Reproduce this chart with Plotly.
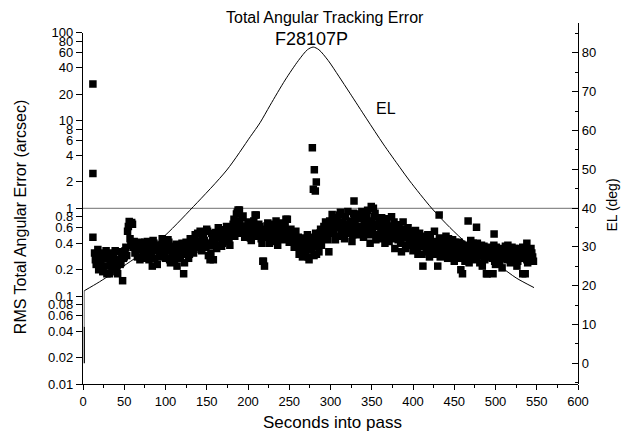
import plotly.graph_objects as go

# ---------------- data ----------------
chart_title = "Total Angular Tracking Error"
pass_label = "F28107P"
el_label = "EL"
x_title = "Seconds into pass"
y_title = "RMS Total Angular Error (arcsec)"
y2_title = "EL (deg)"

# RMS error samples at even seconds, t=14 s .. 546 s
err_even_t0 = 14
err_even_vals = [
    0.31, 0.23, 0.34, 0.27, 0.22, 0.19, 0.29, 0.33, 0.22, 0.18, 0.26, 0.31, 0.21, 0.25, 0.18, 0.32, 0.24, 0.15, 0.28, 0.36,
    0.55, 0.71, 0.38, 0.66, 0.42, 0.33, 0.28, 0.41, 0.35, 0.27, 0.39, 0.31, 0.42, 0.26, 0.36, 0.22, 0.40, 0.33, 0.23, 0.37,
    0.30, 0.45, 0.36, 0.27, 0.33, 0.41, 0.24, 0.30, 0.37, 0.29, 0.22, 0.34, 0.28, 0.40, 0.18, 0.32, 0.36, 0.27, 0.45, 0.38,
    0.31, 0.50, 0.42, 0.36, 0.55, 0.33, 0.47, 0.40, 0.58, 0.29, 0.38, 0.52, 0.26, 0.44, 0.35, 0.60, 0.48, 0.37, 0.54, 0.42,
    0.62, 0.45, 0.38, 0.53, 0.66, 0.48, 0.86, 0.96, 0.72, 0.55, 0.82, 0.47, 0.60, 0.70, 0.52, 0.43, 0.65, 0.58, 0.84, 0.50,
    0.62, 0.45, 0.25, 0.22, 0.55, 0.68, 0.40, 0.52, 0.60, 0.47, 0.72, 0.38, 0.56, 0.50, 0.64, 0.44, 0.75, 0.53, 0.41, 0.58,
    0.48, 0.36, 0.55, 0.42, 0.30, 0.46, 0.28, 0.38, 0.33, 0.50, 0.26, 0.44, 0.37, 0.29, 0.52, 0.40, 0.32, 0.58, 0.45, 0.62,
    0.70, 0.50, 0.32, 0.62, 0.85, 0.55, 0.44, 0.75, 0.60, 0.90, 0.48, 0.66, 0.80, 0.52, 0.58, 0.72, 0.42, 0.88, 0.63, 0.50,
    0.76, 0.55, 0.92, 0.47, 0.68, 0.82, 0.58, 0.40, 0.72, 0.63, 0.88, 0.50, 0.66, 0.45, 0.78, 0.56, 0.40, 0.70, 0.60, 0.48,
    0.80, 0.52, 0.35, 0.65, 0.44, 0.57, 0.32, 0.70, 0.48, 0.38, 0.60, 0.43, 0.55, 0.33, 0.47, 0.40, 0.30, 0.52, 0.37, 0.22,
    0.45, 0.35, 0.50, 0.28, 0.40, 0.33, 0.55, 0.38, 0.22, 0.46, 0.31, 0.42, 0.36, 0.48, 0.27, 0.39, 0.34, 0.44, 0.25, 0.37,
    0.30, 0.41, 0.20, 0.35, 0.28, 0.38, 0.32, 0.24, 0.43, 0.30, 0.36, 0.26, 0.40, 0.29, 0.33, 0.22, 0.37, 0.28, 0.18, 0.31,
    0.34, 0.27, 0.38, 0.23, 0.31, 0.35, 0.28, 0.21, 0.33, 0.37, 0.26, 0.30, 0.24, 0.36, 0.29, 0.32, 0.22, 0.35, 0.27, 0.33,
    0.30, 0.18, 0.26, 0.34, 0.28, 0.31, 0.25,
]
# RMS error samples at odd seconds, t=15 s .. 545 s
err_odd_t0 = 15
err_odd_vals = [
    0.26, 0.30, 0.20, 0.24, 0.31, 0.22, 0.27, 0.18, 0.30, 0.24, 0.21, 0.28, 0.33, 0.19, 0.26, 0.23, 0.30, 0.27, 0.33, 0.29,
    0.62, 0.45, 0.69, 0.36, 0.31, 0.40, 0.34, 0.26, 0.37, 0.30, 0.41, 0.28, 0.35, 0.39, 0.30, 0.43, 0.27, 0.34, 0.38, 0.28,
    0.35, 0.40, 0.29, 0.34, 0.44, 0.26, 0.36, 0.31, 0.25, 0.39, 0.33, 0.27, 0.37, 0.30, 0.24, 0.41, 0.35, 0.30, 0.42, 0.34,
    0.45, 0.37, 0.52, 0.40, 0.34, 0.49, 0.43, 0.36, 0.55, 0.40, 0.31, 0.47, 0.42, 0.53, 0.38, 0.46, 0.57, 0.40, 0.50, 0.45,
    0.55, 0.42, 0.60, 0.50, 0.75, 0.58, 0.90, 0.65, 0.52, 0.78, 0.57, 0.63, 0.50, 0.68, 0.46, 0.55, 0.72, 0.62, 0.48, 0.66,
    0.52, 0.40, 0.58, 0.47, 0.63, 0.50, 0.44, 0.66, 0.55, 0.42, 0.60, 0.48, 0.68, 0.45, 0.52, 0.62, 0.47, 0.57, 0.50, 0.44,
    0.42, 0.52, 0.38, 0.47, 0.34, 0.40, 0.31, 0.45, 0.36, 0.28, 0.41, 0.34, 0.47, 0.39, 0.30, 0.44, 0.52, 0.38, 0.50, 0.57,
    0.60, 0.44, 0.72, 0.52, 0.66, 0.78, 0.48, 0.63, 0.84, 0.55, 0.70, 0.45, 0.62, 0.92, 0.56, 0.68, 0.50, 0.75, 0.57, 0.86,
    0.62, 0.80, 0.52, 0.73, 0.58, 0.95, 0.50, 0.66, 0.57, 0.80, 0.44, 0.62, 0.72, 0.52, 0.65, 0.47, 0.76, 0.55, 0.42, 0.63,
    0.56, 0.70, 0.45, 0.52, 0.62, 0.40, 0.50, 0.58, 0.35, 0.46, 0.53, 0.38, 0.49, 0.42, 0.56, 0.34, 0.45, 0.40, 0.30, 0.48,
    0.38, 0.44, 0.32, 0.47, 0.36, 0.42, 0.30, 0.40, 0.35, 0.28, 0.43, 0.33, 0.39, 0.30, 0.45, 0.32, 0.38, 0.28, 0.41, 0.33,
    0.36, 0.27, 0.39, 0.31, 0.25, 0.37, 0.29, 0.34, 0.27, 0.40, 0.32, 0.28, 0.35, 0.24, 0.38, 0.30, 0.26, 0.34, 0.29, 0.36,
    0.28, 0.32, 0.25, 0.36, 0.29, 0.24, 0.34, 0.30, 0.27, 0.33, 0.38, 0.28, 0.31, 0.26, 0.35, 0.30, 0.25, 0.32, 0.28, 0.36,
    0.27, 0.32, 0.24, 0.30, 0.35, 0.28,
]
err_even_t = [err_even_t0 + 2 * i for i in range(len(err_even_vals))]
err_odd_t = [err_odd_t0 + 2 * i for i in range(len(err_odd_vals))]

# individually read outlying error points
out_t = [12, 12, 12, 278, 280.4, 282.8, 279.2, 281.6, 328.5, 349.4, 352, 431.7, 466.8, 477, 498.3,
         538, 460, 489, 497, 533, 189.6, 208.6, 247.7, 154, 218.7]
out_v = [26, 2.5, 0.47, 4.9, 2.75, 2.0, 1.65, 1.58, 1.21, 1.05, 1.0, 0.84, 0.72, 0.61, 0.51,
         0.40, 0.18, 0.18, 0.18, 0.18, 0.96, 0.84, 0.75, 0.26, 0.25]

# elevation curve (deg)
el_t = [1.6, 20, 53, 93.6, 133.9, 174.3, 202.8, 214.6, 226.8, 245, 261, 272, 279, 286, 297.3, 310,
        323.6, 343.8, 364, 384, 396, 422.5, 444.7, 464.9, 485, 505.5, 525, 546.7]
el_deg = [18.7, 21, 25.6, 31.8, 40.4, 49.8, 58.4, 62, 66.5, 73, 78, 80.8, 81.5, 80.8, 78, 74,
          69.6, 63, 56.5, 50.5, 47, 40, 35, 31, 28, 25, 22, 19.5]
# start-of-pass vertical segment of the elevation trace
el_start_t = [1.6, 1.6]
el_start_black = [0, 9.5]
el_start_gray = [9.5, 18.7]

ref_level = 1.0

x_ticks = [0, 50, 100, 150, 200, 250, 300, 350, 400, 450, 500, 550, 600]
y_tickvals = [0.01, 0.02, 0.04, 0.06, 0.08, 0.1, 0.2, 0.4, 0.6, 0.8, 1, 2, 4, 6, 8, 10, 20, 40, 60, 80, 100]
y_ticktext = ["0.01", "0.02", "0.04", "0.06", "0.08", "0.1", "0.2", "0.4", "0.6", "0.8", "1",
              "2", "4", "6", "8", "10", "20", "40", "60", "80", "100"]
y2_ticks = [0, 10, 20, 30, 40, 50, 60, 70, 80]

# ---------------- figure ----------------
FONT = "Arial, Liberation Sans, sans-serif"

fig = go.Figure()
fig.add_trace(go.Scatter(x=el_start_t, y=el_start_black, mode="lines", xaxis="x", yaxis="y2",
                         line=dict(color="black", width=1.2), hoverinfo="skip"))
fig.add_trace(go.Scatter(x=el_start_t, y=el_start_gray, mode="lines", xaxis="x", yaxis="y2",
                         line=dict(color="#8a8a8a", width=1.2), hoverinfo="skip"))
fig.add_trace(go.Scatter(x=el_t, y=el_deg, mode="lines", xaxis="x", yaxis="y2",
                         line=dict(color="black", width=1, shape="spline", smoothing=0.8)))
fig.add_trace(go.Scatter(x=err_even_t + err_odd_t + out_t, y=err_even_vals + err_odd_vals + out_v,
                         mode="markers", xaxis="x", yaxis="y",
                         marker=dict(symbol="square", size=7.5, color="black", line=dict(width=0))))

fig.add_shape(type="line", xref="x", yref="y", x0=0, x1=600, y0=ref_level, y1=ref_level,
              line=dict(color="#8c8c8c", width=1.2), layer="below")

axis_common = dict(showline=True, linecolor="black", linewidth=1.3, showgrid=False, zeroline=False,
                   tickcolor="black", tickfont=dict(family=FONT, size=13, color="black"))

fig.update_layout(
    width=631, height=433,
    margin=dict(l=83, r=53, t=23, b=49),
    paper_bgcolor="white", plot_bgcolor="rgba(0,0,0,0)",
    showlegend=False,
    font=dict(family=FONT, color="black"),
    xaxis=dict(domain=[0, 1], range=[0, 600], anchor="y", tickmode="array", tickvals=x_ticks,
               ticks="outside", ticklen=5, tickwidth=1.2,
               minor=dict(ticks="outside", ticklen=3, tickwidth=1, dtick=25, tick0=0, tickcolor="black"),
               **axis_common),
    yaxis=dict(type="log", domain=[0, 0.9731], range=[-2, 2], anchor="x", tickmode="array",
               tickvals=y_tickvals, ticktext=y_ticktext, ticks="outside", ticklen=6, tickwidth=1.2,
               **axis_common),
    yaxis2=dict(domain=[0, 1], range=[-5.34, 87.7], anchor="x", side="right", tickmode="array",
                tickvals=y2_ticks, ticks="inside", ticklen=6, tickwidth=1.2,
                minor=dict(ticks="inside", ticklen=3, tickwidth=1, dtick=5, tick0=0, tickcolor="black"),
                **axis_common),
)

ann_font = lambda s: dict(family=FONT, size=s, color="black")
fig.add_annotation(text=chart_title, xref="paper", yref="paper", x=0.4879, y=1.0166,
                   xanchor="center", yanchor="middle", showarrow=False, font=ann_font(16))
fig.add_annotation(text=pass_label, xref="paper", yref="paper", x=0.462, y=0.955,
                   xanchor="center", yanchor="middle", showarrow=False, font=ann_font(18))
fig.add_annotation(text=el_label, xref="paper", yref="paper", x=0.612, y=0.764,
                   xanchor="center", yanchor="middle", showarrow=False, font=ann_font(16))
fig.add_annotation(text=x_title, xref="paper", yref="paper", x=0.5047, y=-0.108,
                   xanchor="center", yanchor="middle", showarrow=False, font=ann_font(17))
fig.add_annotation(text=y_title, xref="paper", yref="paper", x=-0.127, y=0.4626, textangle=-90,
                   xanchor="center", yanchor="middle", showarrow=False, font=ann_font(16))
fig.add_annotation(text=y2_title, xref="paper", yref="paper", x=1.068, y=0.496, textangle=-90,
                   xanchor="center", yanchor="middle", showarrow=False, font=ann_font(14))

fig.write_html("out.html")
